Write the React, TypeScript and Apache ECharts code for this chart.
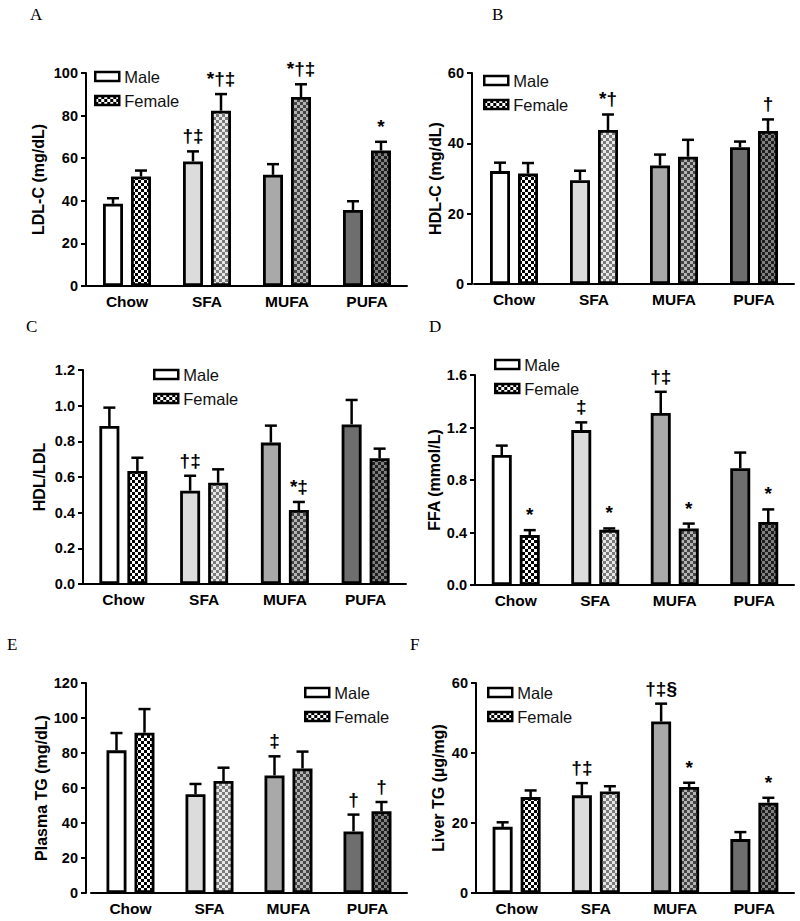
import React, { useEffect, useRef } from "react";
import * as echarts from "echarts";

const categories = ["Chow", "SFA", "MUFA", "PUFA"];

// Panel A: LDL-C (mg/dL)
const ldlMale = [38.6, 58.5, 52.2, 35.7];
const ldlMaleSem = [2.6, 4.7, 5.0, 4.1];
const ldlFemale = [51.4, 82.3, 88.7, 63.6];
const ldlFemaleSem = [2.8, 7.8, 6.0, 4.1];
const ldlMaleMarks = ["", "†‡", "", ""];
const ldlFemaleMarks = ["", "*†‡", "*†‡", "*"];

// Panel B: HDL-C (mg/dL)
const hdlMale = [32.1, 29.5, 33.7, 38.9];
const hdlMaleSem = [2.4, 2.7, 3.1, 1.6];
const hdlFemale = [31.4, 43.8, 36.2, 43.5];
const hdlFemaleSem = [3.0, 4.4, 4.8, 3.3];
const hdlMaleMarks = ["", "", "", ""];
const hdlFemaleMarks = ["", "*†", "", "†"];

// Panel C: HDL/LDL
const ratioMale = [0.886, 0.523, 0.793, 0.895];
const ratioMaleSem = [0.103, 0.084, 0.095, 0.137];
const ratioFemale = [0.634, 0.568, 0.415, 0.705];
const ratioFemaleSem = [0.074, 0.075, 0.045, 0.054];
const ratioMaleMarks = ["", "†‡", "", ""];
const ratioFemaleMarks = ["", "", "*‡", ""];

// Panel D: FFA (mmol/L)
const ffaMale = [0.99, 1.18, 1.31, 0.89];
const ffaMaleSem = [0.072, 0.059, 0.162, 0.119];
const ffaFemale = [0.38, 0.42, 0.43, 0.48];
const ffaFemaleSem = [0.038, 0.011, 0.038, 0.096];
const ffaMaleMarks = ["", "‡", "†‡", ""];
const ffaFemaleMarks = ["*", "*", "*", "*"];

// Panel E: Plasma TG (mg/dL)
const ptgMale = [81.5, 56.4, 67.2, 35.2];
const ptgMaleSem = [9.9, 5.9, 10.9, 9.6];
const ptgFemale = [91.6, 64.0, 71.2, 46.7];
const ptgFemaleSem = [13.5, 7.6, 9.6, 5.3];
const ptgMaleMarks = ["", "", "‡", "†"];
const ptgFemaleMarks = ["", "", "", "†"];

// Panel F: Liver TG (µg/mg)
const ltgMale = [18.9, 27.9, 49.0, 15.4];
const ltgMaleSem = [1.3, 3.5, 5.1, 2.0];
const ltgFemale = [27.4, 29.0, 30.3, 25.8];
const ltgFemaleSem = [1.9, 1.5, 1.2, 1.4];
const ltgMaleMarks = ["", "†‡", "†‡§", ""];
const ltgFemaleMarks = ["", "", "*", "*"];

const panelLetters = ["A", "B", "C", "D", "E", "F"];
const yNames = ["LDL-C (mg/dL)", "HDL-C (mg/dL)", "HDL/LDL", "FFA (mmol/L)", "Plasma TG (mg/dL)", "Liver TG (µg/mg)"];
const yMax = [100, 60, 1.2, 1.6, 120, 60];
const yInterval = [20, 20, 0.2, 0.4, 20, 20];
const yDecimals = [0, 0, 1, 1, 0, 0];

const FONT = '"Liberation Sans", Arial, sans-serif';
const BAR_W = 20;
const OFF = 14;
const CAP = 6;

const maleColors = ["#ffffff", "#dcdcdc", "#a9a9a9", "#6e6e6e"];
const femaleLight = ["#ffffff", "#e8e8e8", "#b4b4b4", "#808080"];
const femaleDark = ["#000000", "#7a7a7a", "#444444", "#1e1e1e"];

function checker(c1: string, c2: string, cell = 3): any {
  const cv = document.createElement("canvas");
  cv.width = cell * 2;
  cv.height = cell * 2;
  const ctx = cv.getContext("2d")!;
  ctx.fillStyle = c1;
  ctx.fillRect(0, 0, cell * 2, cell * 2);
  ctx.fillStyle = c2;
  ctx.fillRect(0, 0, cell, cell);
  ctx.fillRect(cell, cell, cell, cell);
  return { image: cv.toDataURL(), imageWidth: cell * 2, imageHeight: cell * 2, repeat: "repeat" };
}

export default function App() {
  const ref = useRef<HTMLDivElement>(null);
  useEffect(() => {
    if (!ref.current) return;
    const chart = echarts.init(ref.current, null, { renderer: "svg" });

    const panels = [
      { m: ldlMale, ms: ldlMaleSem, f: ldlFemale, fs: ldlFemaleSem, mk: ldlMaleMarks, fk: ldlFemaleMarks },
      { m: hdlMale, ms: hdlMaleSem, f: hdlFemale, fs: hdlFemaleSem, mk: hdlMaleMarks, fk: hdlFemaleMarks },
      { m: ratioMale, ms: ratioMaleSem, f: ratioFemale, fs: ratioFemaleSem, mk: ratioMaleMarks, fk: ratioFemaleMarks },
      { m: ffaMale, ms: ffaMaleSem, f: ffaFemale, fs: ffaFemaleSem, mk: ffaMaleMarks, fk: ffaFemaleMarks },
      { m: ptgMale, ms: ptgMaleSem, f: ptgFemale, fs: ptgFemaleSem, mk: ptgMaleMarks, fk: ptgFemaleMarks },
      { m: ltgMale, ms: ltgMaleSem, f: ltgFemale, fs: ltgFemaleSem, mk: ltgMaleMarks, fk: ltgFemaleMarks },
    ];

    const grids = [
      { left: 87, top: 73, width: 320, height: 213 },
      { left: 474, top: 73, width: 320, height: 211 },
      { left: 83, top: 370, width: 323, height: 214 },
      { left: 476, top: 375, width: 318, height: 210 },
      { left: 91, top: 683, width: 316, height: 210 },
      { left: 477, top: 683, width: 317, height: 210 },
    ];
    const yOffsets = [1, 2, 0, 1, 5, 1];
    const nameGaps = [40, 26, 36, 32, 33, 30];
    const legendPos = [
      { left: 94, top: 68 },
      { left: 483, top: 72 },
      { left: 153, top: 366 },
      { left: 494, top: 356 },
      { left: 304, top: 684 },
      { left: 487, top: 684 },
    ];
    const letterPos = [
      [30, 6], [492, 6], [26, 318], [429, 318], [7, 636], [410, 636],
    ];

    const femalePatterns = femaleLight.map((c, i) => checker(c, femaleDark[i]));
    const legendFemale = checker("#ffffff", "#000000");

    const errSeries = (p: number, side: number, means: number[], sems: number[], marks: string[]) => ({
      type: "custom",
      name: side < 0 ? "errM" + p : "errF" + p,
      xAxisIndex: p,
      yAxisIndex: p,
      silent: true,
      z: 5,
      data: means.map((v, i) => [i, v, v + sems[i]]),
      renderItem: (params: any, api: any) => {
        const i = api.value(0);
        const base = api.coord([i, api.value(1)]);
        const top = api.coord([i, api.value(2)]);
        const x = base[0] + side * OFF;
        return {
          type: "group",
          children: [
            { type: "line", shape: { x1: x, y1: base[1], x2: x, y2: top[1] }, style: { stroke: "#000", lineWidth: 2.5 } },
            { type: "line", shape: { x1: x - CAP, y1: top[1], x2: x + CAP, y2: top[1] }, style: { stroke: "#000", lineWidth: 2.5 } },
            {
              type: "text",
              x: x,
              y: top[1] - 6,
              style: {
                text: marks[params.dataIndex],
                align: "center",
                verticalAlign: "bottom",
                font: `bold 19px ${FONT}`,
                fill: "#000",
              },
            },
          ],
        };
      },
    });

    const series: any[] = [];
    panels.forEach((pd, p) => {
      series.push({
        type: "bar",
        name: "Male",
        xAxisIndex: p,
        yAxisIndex: p,
        barWidth: BAR_W,
        barGap: "40%",
        itemStyle: { color: "#ffffff", borderColor: "#000", borderWidth: 2.8 },
        data: pd.m.map((v, i) => ({ value: v, itemStyle: { color: maleColors[i] } })),
      });
      series.push({
        type: "bar",
        name: "Female",
        xAxisIndex: p,
        yAxisIndex: p,
        barWidth: BAR_W,
        barGap: "40%",
        itemStyle: { color: legendFemale, borderColor: "#000", borderWidth: 2.8 },
        data: pd.f.map((v, i) => ({ value: v, itemStyle: { color: femalePatterns[i] } })),
      });
      series.push(errSeries(p, -1, pd.m, pd.ms, pd.mk));
      series.push(errSeries(p, 1, pd.f, pd.fs, pd.fk));
    });

    chart.setOption({
      animation: false,
      backgroundColor: "#ffffff",
      grid: grids.map((g) => ({ ...g, containLabel: false })),
      xAxis: grids.map((_, p) => ({
        type: "category",
        gridIndex: p,
        data: categories,
        axisLine: { lineStyle: { color: "#000", width: 2 } },
        axisTick: { alignWithLabel: true, length: 5, lineStyle: { color: "#000", width: 2 } },
        axisLabel: { color: "#000", fontWeight: "bold", fontSize: 15.5, fontFamily: FONT, margin: 7 },
        splitLine: { show: false },
      })),
      yAxis: grids.map((_, p) => ({
        type: "value",
        gridIndex: p,
        min: 0,
        max: yMax[p],
        interval: yInterval[p],
        offset: yOffsets[p],
        name: yNames[p],
        nameLocation: "middle",
        nameGap: nameGaps[p],
        nameTextStyle: { color: "#000", fontWeight: "bold", fontSize: 16, fontFamily: FONT },
        axisLine: { show: true, lineStyle: { color: "#000", width: 2 } },
        axisTick: { show: true, length: 5, lineStyle: { color: "#000", width: 2 } },
        axisLabel: {
          color: "#000",
          fontWeight: "bold",
          fontSize: 14.5,
          fontFamily: FONT,
          margin: 8,
          formatter: (v: number) => v.toFixed(yDecimals[p]),
        },
        splitLine: { show: false },
      })),
      legend: legendPos.map((lp) => ({
        ...lp,
        orient: "vertical",
        data: ["Male", "Female"],
        icon: "rect",
        itemWidth: 24,
        itemHeight: 9,
        itemGap: 7,
        selectedMode: false,
        padding: 0,
        itemStyle: { borderColor: "#000", borderWidth: 2.5 },
        textStyle: { color: "#111", fontSize: 16.5, fontFamily: FONT, lineHeight: 17 },
      })),
      graphic: panelLetters.map((t, i) => ({
        type: "text",
        left: letterPos[i][0],
        top: letterPos[i][1],
        style: { text: t, font: '17px "Liberation Serif", serif', fill: "#000" },
      })),
      series,
    });
    return () => chart.dispose();
  }, []);
  return <div ref={ref} style={{ position: "absolute", left: 0, top: 0, width: 800, height: 921 }} />;
}
